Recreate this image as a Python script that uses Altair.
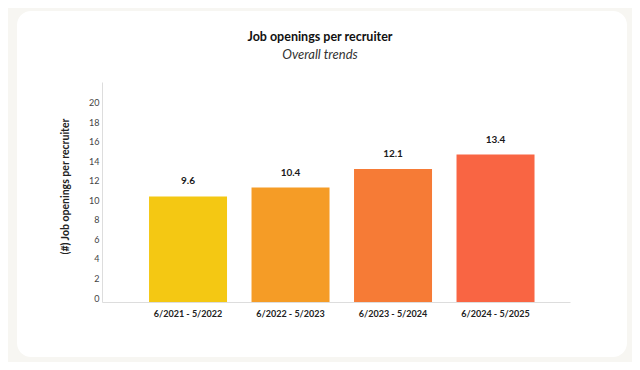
import altair as alt
import pandas as pd

periods = ["6/2021 - 5/2022", "6/2022 - 5/2023", "6/2023 - 5/2024", "6/2024 - 5/2025"]
values = [9.6, 10.4, 12.1, 13.4]
colors = ["#F4C813", "#F59C26", "#F67B36", "#F96543"]
y_tick_labels = [0, 2, 4, 6, 8, 10, 12, 14, 16, 18, 20]

df = pd.DataFrame({"period": periods, "value": values})

FONT = "Lato"

card = alt.Chart(pd.DataFrame({"k": [0]})).mark_rect(
    color="white", cornerRadius=14, clip=False
).encode(
    x=alt.value(-85), x2=alt.value(525), y=alt.value(-71), y2=alt.value(275)
)

xscale = alt.Scale(domain=periods, paddingInner=0.239, paddingOuter=0.4025, align=0.57)
xaxis = alt.Axis(
    title=None, labelAngle=0, ticks=False, labelFont=FONT, labelFontWeight="bold",
    labelFontSize=9, labelColor="#222222", labelPadding=7, domainColor="#dddddd",
    domainWidth=1, zindex=1,
)

bars = alt.Chart(df).mark_bar().encode(
    x=alt.X("period:N", sort=periods, scale=xscale, axis=xaxis),
    y=alt.Y("value:Q", scale=alt.Scale(domain=[0, 20], nice=False), axis=None),
    color=alt.Color("period:N", scale=alt.Scale(domain=periods, range=colors), legend=None),
)

labels = alt.Chart(df).mark_text(
    baseline="bottom", dy=-10, font=FONT, fontWeight="bold", fontSize=10, color="#1a1a1a"
).encode(
    x=alt.X("period:N", sort=periods, scale=xscale, axis=xaxis),
    y=alt.Y("value:Q", scale=alt.Scale(domain=[0, 20], nice=False), axis=None),
    text=alt.Text("value:Q", format=".1f"),
)

axis_layer = alt.Chart(df).mark_point(opacity=0).encode(
    y=alt.Y(
        "value:Q",
        scale=alt.Scale(domain=[-0.41, 22.15], nice=False, zero=False),
        axis=alt.Axis(
            orient="left", values=y_tick_labels, ticks=False, grid=False,
            domainColor="#dddddd", domainWidth=1, zindex=1,
            labelFont=FONT, labelFontSize=9, labelColor="#444444", labelPadding=3,
            title="(#) Job openings per recruiter", titleFont=FONT, titleFontWeight="bold",
            titleFontSize=10.5, titleColor="#222222", titleX=-32, titleY=104,
            titleAngle=-90, titleAlign="center", titleBaseline="bottom",
        ),
    )
)

chart = alt.layer(card, bars, labels, axis_layer).resolve_scale(
    y="independent"
).properties(
    width=468,
    height=220,
    title=alt.TitleParams(
        text="Job openings per recruiter",
        subtitle="Overall trends",
        anchor="middle",
        dx=-16,
        font=FONT,
        fontSize=12.5,
        fontWeight="bold",
        color="#111111",
        subtitleFont=FONT,
        subtitleFontSize=13,
        subtitleFontStyle="italic",
        subtitleColor="#333333",
        subtitlePadding=6,
        offset=-51,
        zindex=1,
    ),
    autosize=alt.AutoSizeParams(type="none"),
    padding={"left": 94, "top": 74, "right": 62, "bottom": 60},
    background="#F7F6F2",
).configure_view(stroke=None)

chart.save("out.html", embed_options={"renderer": "svg", "actions": False})
